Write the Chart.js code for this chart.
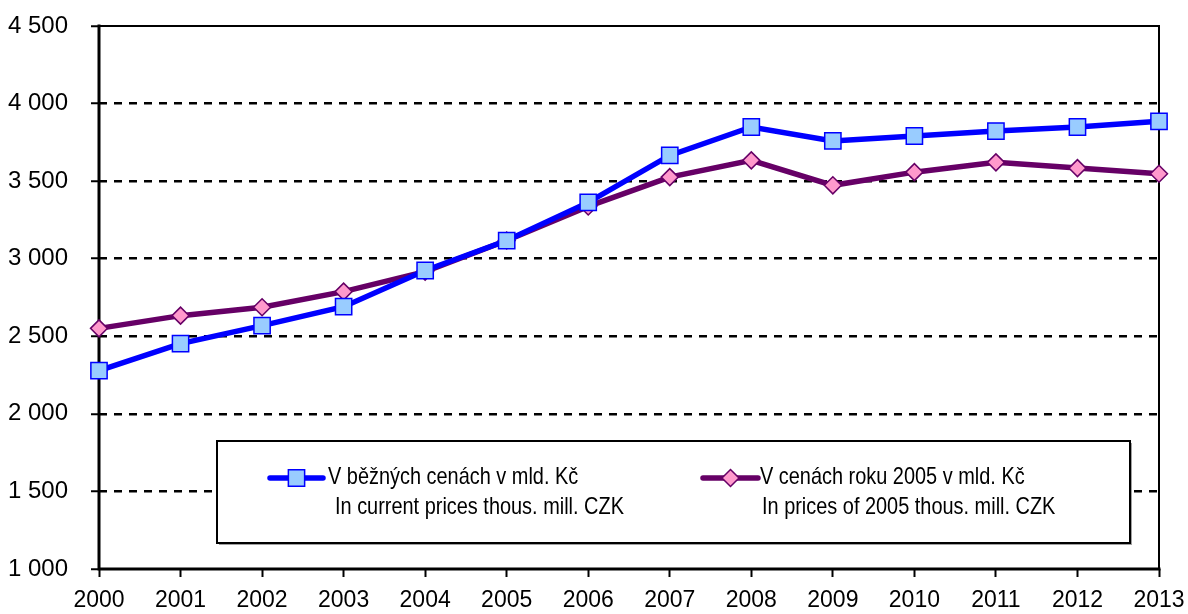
<!DOCTYPE html>
<html>
<head>
<meta charset="utf-8">
<script src="https://cdn.jsdelivr.net/npm/chart.js@4.4.1/dist/chart.umd.min.js"></script>
<style>
  html, body { margin: 0; padding: 0; background: #fff; }
  #wrap { width: 1188px; height: 614px; }
</style>
</head>
<body>
<div id="wrap"><canvas id="chart" width="1188" height="614"></canvas></div>
<script>
// data
const years = ['2000', '2001', '2002', '2003', '2004', '2005', '2006',
               '2007', '2008', '2009', '2010', '2011', '2012', '2013'];
const currentPrices = [2278, 2453, 2569, 2691, 2924, 3117, 3363, 3666, 3849, 3759, 3791, 3823, 3849, 3886];
const prices2005 = [2551, 2633, 2687, 2788, 2917, 3117, 3337, 3526, 3634, 3473, 3558, 3621, 3584, 3548];
const yTicks = [1000, 1500, 2000, 2500, 3000, 3500, 4000, 4500];
const seriesNames = [
  ['V běžných cenách v mld. Kč', 'In current prices thous. mill. CZK'],
  ['V cenách roku 2005 v mld. Kč', 'In prices of 2005 thous. mill. CZK']
];

const FONT = '"Liberation Sans", Arial, sans-serif';

const fmtThousands = v => String(v).replace(/\B(?=(\d{3})+(?!\d))/g, ' ');

// solid frame round the plot area (drawn under the lines so markers sit on top)
const frame = {
  id: 'frame',
  beforeDatasetsDraw(chart) {
    const { ctx, chartArea: a } = chart;
    ctx.save();
    ctx.strokeStyle = '#000';
    ctx.lineCap = 'square';
    ctx.lineWidth = 2;
    ctx.beginPath();
    ctx.moveTo(a.left, a.top); ctx.lineTo(a.right, a.top); ctx.lineTo(a.right, a.bottom);
    ctx.stroke();
    ctx.lineWidth = 3;
    ctx.beginPath();
    ctx.moveTo(a.left, a.top); ctx.lineTo(a.left, a.bottom); ctx.lineTo(a.right, a.bottom);
    ctx.stroke();
    ctx.restore();
  }
};

function drawMarker(ctx, ds, x, y) {
  ctx.save();
  ctx.fillStyle = ds.pointBackgroundColor;
  ctx.strokeStyle = ds.pointBorderColor;
  ctx.lineWidth = ds.pointBorderWidth;
  ctx.beginPath();
  if (ds.pointStyle === 'rect') {
    const s = Math.SQRT1_2 * ds.pointRadius;
    ctx.rect(x - s, y - s, 2 * s, 2 * s);
  } else {
    const r = ds.pointRadius;
    ctx.moveTo(x, y - r); ctx.lineTo(x + r, y); ctx.lineTo(x, y + r); ctx.lineTo(x - r, y);
    ctx.closePath();
  }
  ctx.fill();
  ctx.stroke();
  ctx.restore();
}

// boxed legend with two-line labels, inside the plot
const boxLegend = {
  id: 'boxLegend',
  afterDraw(chart) {
    const { ctx } = chart;
    const box = { x: 217, y: 441, w: 913, h: 102 };
    const entries = [
      { lineX: 270, lineW: 53, text1X: 328, text2X: 335 },
      { lineX: 703, lineW: 55, text1X: 760, text2X: 762 }
    ];
    ctx.save();
    ctx.fillStyle = '#a0a0a0';
    ctx.fillRect(box.x + 2, box.y + 2, box.w, box.h);
    ctx.fillStyle = '#fff';
    ctx.fillRect(box.x, box.y, box.w, box.h);
    ctx.strokeStyle = '#000';
    ctx.lineWidth = 2;
    ctx.strokeRect(box.x, box.y, box.w, box.h);

    chart.data.datasets.forEach((ds, i) => {
      const e = entries[i];
      const my = 478;
      ctx.strokeStyle = ds.borderColor;
      ctx.lineWidth = ds.borderWidth;
      ctx.lineCap = 'round';
      ctx.beginPath();
      ctx.moveTo(e.lineX, my); ctx.lineTo(e.lineX + e.lineW, my);
      ctx.stroke();
      drawMarker(ctx, ds, e.lineX + e.lineW / 2, my);

      ctx.fillStyle = '#000';
      ctx.font = '24px ' + FONT;
      ctx.textBaseline = 'middle';
      ctx.textAlign = 'left';
      const lines = seriesNames[i];
      [[lines[0], e.text1X, 477], [lines[1], e.text2X, 507]].forEach(([t, tx, ty]) => {
        ctx.save();
        ctx.translate(tx, ty);
        ctx.scale(0.83, 1);
        ctx.fillText(t, 0, 0);
        ctx.restore();
      });
    });
    ctx.restore();
  }
};

const ctx = document.getElementById('chart');
new Chart(ctx, {
  type: 'line',
  data: {
    labels: years,
    datasets: [
      {
        label: seriesNames[0].join(' '),
        data: currentPrices,
        borderColor: '#0000FF',
        borderWidth: 5.5,
        pointStyle: 'rect',
        pointRadius: 11.5,
        pointBackgroundColor: '#99CCFF',
        pointBorderColor: '#0000FF',
        pointBorderWidth: 1.5,
        tension: 0,
        clip: false
      },
      {
        label: seriesNames[1].join(' '),
        data: prices2005,
        borderColor: '#660066',
        borderWidth: 5.5,
        pointStyle: 'rectRot',
        pointRadius: 8.5,
        pointBackgroundColor: '#FF99CC',
        pointBorderColor: '#660066',
        pointBorderWidth: 1.5,
        tension: 0,
        clip: false
      }
    ]
  },
  options: {
    responsive: false,
    animation: false,
    layout: { padding: { left: 0, right: 29, top: 26, bottom: 0 } },
    plugins: {
      legend: { display: false },
      tooltip: { enabled: false }
    },
    scales: {
      x: {
        offset: false,
        afterFit: s => { s.height = 45; s.paddingLeft = 0; s.paddingRight = 0; },
        border: { display: false },
        grid: {
          display: true,
          drawOnChartArea: false,
          drawTicks: true,
          tickLength: 8,
          tickColor: '#000',
          tickWidth: 2
        },
        ticks: {
          color: '#000',
          font: { family: FONT, size: 23 },
          padding: 10,
          autoSkip: false,
          maxRotation: 0
        }
      },
      y: {
        min: 1000,
        max: 4500,
        afterFit: s => { s.width = 99; s.paddingTop = 0; s.paddingBottom = 0; },
        afterBuildTicks: s => { s.ticks = yTicks.map(v => ({ value: v })); },
        border: { display: false, dash: [8, 7] },
        grid: {
          // the end lines are part of the solid frame
          color: c => (c.tick && (c.tick.value === 1000 || c.tick.value === 4500)) ? 'rgba(0,0,0,0)' : '#000',
          lineWidth: 2.5,
          drawTicks: true,
          tickLength: 8,
          tickColor: '#000',
          tickWidth: 2,
          tickBorderDash: []
        },
        ticks: {
          color: '#000',
          font: { family: FONT, size: 24 },
          padding: 23,
          callback: v => fmtThousands(v)
        }
      }
    }
  },
  plugins: [frame, boxLegend]
});
</script>
</body>
</html>
